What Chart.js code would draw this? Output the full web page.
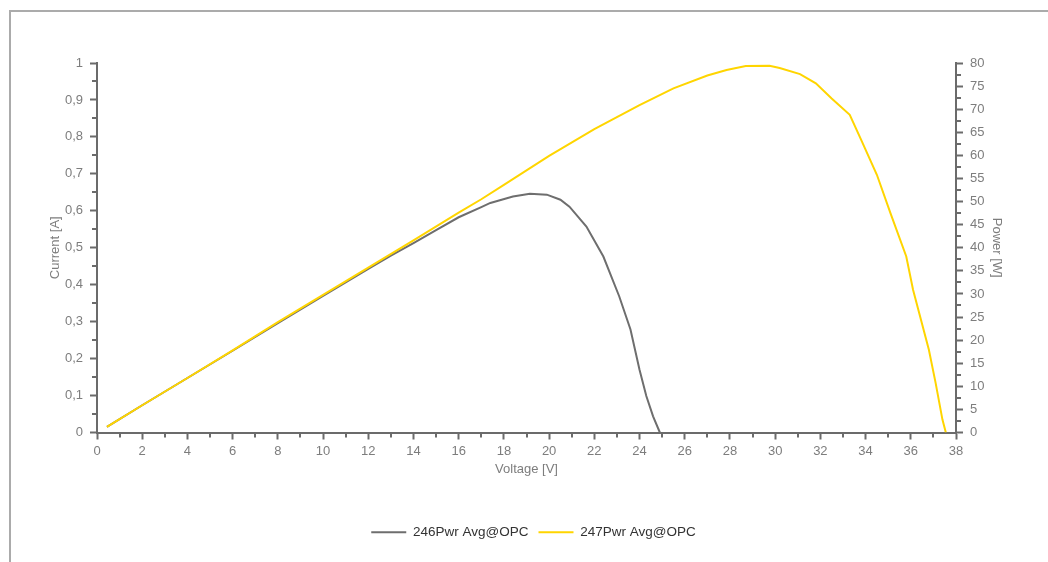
<!DOCTYPE html>
<html lang="en">
<head>
<meta charset="UTF-8">
<title>PV power curves</title>
<style>
    html, body {
        margin: 0;
        padding: 0;
        background: #fff;
        overflow: hidden;
    }
    .frame {
        position: absolute;
        left: 9px;
        top: 10px;
        width: 1100px;
        height: 600px;
        border-left: 2px solid #ababab;
        border-top: 2px solid #ababab;
    }
    .chart-box {
        position: absolute;
        left: 0;
        top: 0;
        width: 1048px;
        height: 562px;
    }
</style>
</head>
<body>
<div class="frame"></div>
<div class="chart-box"><canvas id="pvChart"></canvas></div>

<script src="https://cdn.jsdelivr.net/npm/chart.js@4.4.1/dist/chart.umd.min.js"></script>
<script>
    // measured curves: voltage [V] and power [W]
    const voltage246 = [0.44, 2, 4, 6, 8, 10, 12, 13, 14, 15, 16, 17, 17.4, 18.4, 19.15, 19.9, 20.5, 20.9, 21.65, 22.4, 23.1, 23.6, 24.0, 24.3, 24.6, 24.9];
    const power246 = [1.2, 5.9, 11.8, 17.7, 23.7, 29.6, 35.4, 38.3, 41.0, 43.8, 46.6, 48.8, 49.7, 51.1, 51.7, 51.5, 50.4, 48.9, 44.6, 38.1, 29.5, 22.3, 13.6, 7.9, 3.5, 0];

    const voltage247 = [0.44, 2, 4, 6, 8, 10, 12, 14, 16, 17, 18, 20, 22, 24, 25.5, 27, 27.85, 28.7, 29.75, 30.2, 31.1, 31.8, 32.5, 33.3, 33.8, 34.5, 35.1, 35.8, 36.1, 36.8, 37.1, 37.4, 37.55];
    const power247 = [1.2, 5.9, 11.8, 17.8, 23.9, 29.8, 35.7, 41.6, 47.6, 50.5, 53.6, 59.9, 65.7, 70.9, 74.5, 77.3, 78.5, 79.35, 79.4, 78.9, 77.6, 75.6, 72.3, 68.8, 63.4, 55.8, 47.5, 38.1, 30.9, 17.9, 10.7, 2.8, 0];

    const seriesNames = ['246Pwr Avg@OPC', '247Pwr Avg@OPC'];

    // axis ranges and steps
    const xRange = [0, 38], xStep = 2;
    const currentRange = [0, 1], currentStep = 0.1;
    const powerRange = [0, 80], powerStep = 5;

    const axisColor = '#6b6b6b';
    const labelColor = '#7d7d7d';

    Chart.defaults.font.family = "'Liberation Sans', Arial, sans-serif";
    Chart.defaults.font.size = 13;

    function toPoints(xs, ys) {
        return xs.map((x, i) => ({ x: x, y: ys[i] }));
    }

    function commaLabel(v) {
        return String(Math.round(v * 10) / 10).replace('.', ',');
    }

    // short ticks halfway between the labelled ones
    const minorTicks = {
        id: 'minorTicks',
        afterDraw(chart) {
            const ctx = chart.ctx;
            ctx.save();
            ctx.strokeStyle = axisColor;
            ctx.lineWidth = 2;
            const draw = (scale, step, len) => {
                for (let v = scale.min + step / 2; v < scale.max; v += step) {
                    const p = Math.round(scale.getPixelForValue(v));
                    ctx.beginPath();
                    if (scale.axis === 'x') {
                        ctx.moveTo(p, scale.top);
                        ctx.lineTo(p, scale.top + len);
                    } else if (scale.position === 'left') {
                        ctx.moveTo(scale.right, p);
                        ctx.lineTo(scale.right - len, p);
                    } else {
                        ctx.moveTo(scale.left, p);
                        ctx.lineTo(scale.left + len, p);
                    }
                    ctx.stroke();
                }
            };
            draw(chart.scales.x, xStep, 5);
            draw(chart.scales.yCurrent, currentStep, 5);
            draw(chart.scales.yPower, powerStep, 5);
            ctx.restore();
        }
    };

    const axisBase = {
        border: { display: true, color: axisColor, width: 2 },
        grid: { drawOnChartArea: false, drawTicks: true, tickLength: 7, tickColor: axisColor, tickWidth: 2 }
    };

    new Chart(document.getElementById('pvChart'), {
        type: 'line',
        data: {
            datasets: [{
                label: seriesNames[0],
                data: toPoints(voltage246, power246),
                borderColor: '#6e6e6e',
                backgroundColor: '#6e6e6e',
                borderWidth: 2,
                pointRadius: 0,
                tension: 0,
                yAxisID: 'yPower',
                order: 1
            }, {
                label: seriesNames[1],
                data: toPoints(voltage247, power247),
                borderColor: '#ffd500',
                backgroundColor: '#ffd500',
                borderWidth: 2,
                pointRadius: 0,
                tension: 0,
                yAxisID: 'yPower',
                order: 0
            }]
        },
        options: {
            responsive: true,
            maintainAspectRatio: false,
            animation: false,
            layout: { padding: { top: 63, bottom: 13, left: 19, right: 0 } },
            plugins: {
                tooltip: { enabled: false },
                legend: {
                    position: 'bottom',
                    labels: {
                        color: '#333',
                        font: { size: 13.5 },
                        usePointStyle: true,
                        pointStyle: 'line',
                        pointStyleWidth: 35,
                        padding: 10,
                        sort: (a, b) => a.datasetIndex - b.datasetIndex
                    }
                }
            },
            scales: {
                x: {
                    ...axisBase,
                    type: 'linear',
                    min: xRange[0],
                    max: xRange[1],
                    ticks: { stepSize: xStep, color: labelColor, padding: 4 },
                    title: { display: true, text: 'Voltage [V]', color: labelColor, padding: { top: 0, bottom: 38 } },
                    afterFit(scale) { scale.height = 83; }
                },
                yCurrent: {
                    ...axisBase,
                    type: 'linear',
                    position: 'left',
                    min: currentRange[0],
                    max: currentRange[1],
                    ticks: { stepSize: currentStep, color: labelColor, padding: 7, callback: v => commaLabel(v) },
                    title: { display: true, text: 'Current [A]', color: labelColor, padding: { top: 29, bottom: 0 } },
                    afterFit(scale) { scale.width = 78; }
                },
                yPower: {
                    ...axisBase,
                    type: 'linear',
                    position: 'right',
                    min: powerRange[0],
                    max: powerRange[1],
                    ticks: { stepSize: powerStep, color: labelColor, padding: 7 },
                    title: { display: true, text: 'Power [W]', color: labelColor, padding: { top: 44, bottom: 0 } },
                    afterFit(scale) { scale.width = 92; }
                }
            }
        },
        plugins: [minorTicks]
    });
</script>
</body>
</html>
